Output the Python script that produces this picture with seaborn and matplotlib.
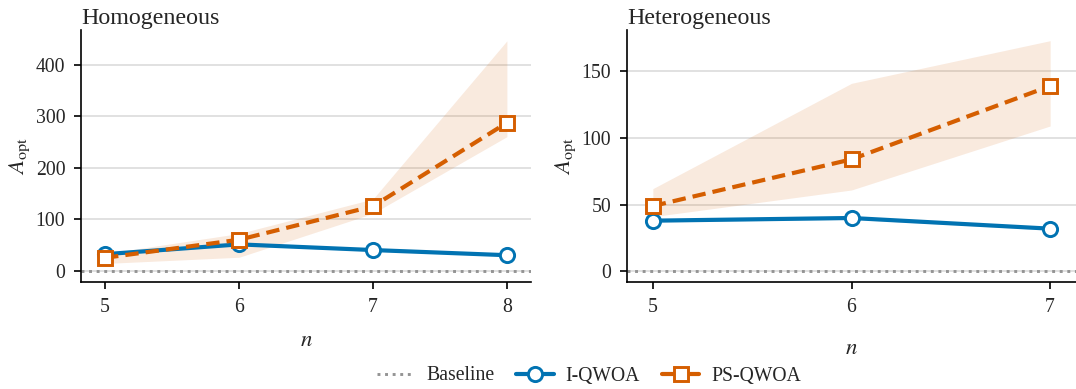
import numpy as np
import pandas as pd
import seaborn as sns
import matplotlib
matplotlib.use("Agg")
import matplotlib.pyplot as plt
from matplotlib.lines import Line2D

# ---- data ----
n_homo = [5, 6, 7, 8]
iqwoa_homo = [32, 51, 40, 30]
iqwoa_homo_lo = [30, 49, 38, 28]
iqwoa_homo_hi = [34, 53, 42, 32]
psqwoa_homo = [25, 60, 125, 287]
psqwoa_homo_lo = [14, 26, 111, 260]
psqwoa_homo_hi = [33, 72, 139, 446]

n_hetero = [5, 6, 7]
iqwoa_hetero = [38, 40, 32]
iqwoa_hetero_lo = [37, 39, 31]
iqwoa_hetero_hi = [39, 41, 33]
psqwoa_hetero = [49, 84, 139]
psqwoa_hetero_lo = [41, 61, 109]
psqwoa_hetero_hi = [62, 141, 173]

baseline = 0
titles = ["Homogeneous", "Heterogeneous"]
series_names = ["Baseline", "I-QWOA", "PS-QWOA"]

sns.set_theme(style="ticks")
plt.rcParams["font.family"] = ["Liberation Serif", "DejaVu Serif"]
plt.rcParams["mathtext.fontset"] = "stix"

BLUE = "#0173b2"
ORANGE = "#d55e00"
GRAY = "#949494"

dpi = 150
fig = plt.figure(figsize=(1076 / dpi, 389 / dpi), dpi=dpi)
W, H = 1076, 389
def pos(x0, x1, ytop, ybot):
    return [x0 / W, 1 - ybot / H, (x1 - x0) / W, (ybot - ytop) / H]

ax1 = fig.add_axes(pos(81, 531, 30, 282))
ax2 = fig.add_axes(pos(627, 1076, 30, 282))

LW = 2.0
MS = 6.8
panels = [
    (ax1, n_homo, iqwoa_homo, iqwoa_homo_lo, iqwoa_homo_hi,
     psqwoa_homo, psqwoa_homo_lo, psqwoa_homo_hi, (-22, 467), [0, 100, 200, 300, 400], 6.5),
    (ax2, n_hetero, iqwoa_hetero, iqwoa_hetero_lo, iqwoa_hetero_hi,
     psqwoa_hetero, psqwoa_hetero_lo, psqwoa_hetero_hi, (-8, 181), [0, 50, 100, 150], 10.5),
]

for i, (ax, n, iq, iql, iqh, ps, psl, psh, ylim, yt, lp) in enumerate(panels):
    ax.grid(axis="y", color="#dcdcdc", linewidth=0.8, zorder=0)
    ax.axhline(baseline, color=GRAY, linestyle=(0, (1, 1.6)), linewidth=1.4, zorder=1)
    ax.fill_between(n, iql, iqh, color=BLUE, alpha=0.15, linewidth=0, zorder=2)
    ax.fill_between(n, psl, psh, color=ORANGE, alpha=0.13, linewidth=0, zorder=2)
    df_i = pd.DataFrame({"n": n, "A": iq})
    df_p = pd.DataFrame({"n": n, "A": ps})
    sns.lineplot(data=df_i, x="n", y="A", ax=ax, color=BLUE, linewidth=LW,
                 marker="o", markersize=MS, markerfacecolor="white",
                 markeredgecolor=BLUE, markeredgewidth=1.4, zorder=3)
    sns.lineplot(data=df_p, x="n", y="A", ax=ax, color=ORANGE, linewidth=LW,
                 linestyle=(0, (3.2, 1.7)), marker="s", markersize=MS,
                 markerfacecolor="white", markeredgecolor=ORANGE,
                 markeredgewidth=1.4, zorder=4)
    ax.set_ylim(*ylim)
    ax.set_yticks(yt)
    ax.set_xticks(n)
    ax.set_xlim(n[0] - 0.05 * (n[-1] - n[0]) - 0.03, n[-1] + 0.05 * (n[-1] - n[0]) + 0.03)
    ax.set_xlabel(r"$n$", fontsize=11, labelpad=lp)
    ax.set_ylabel(r"$A_{\mathrm{opt}}$", fontsize=11, labelpad=2)
    ax.set_title(titles[i], loc="left", fontsize=11.5, pad=3)
    ax.tick_params(axis="both", labelsize=9.5, length=3.5, width=0.8, color="black", pad=4)
    for s in ["top", "right"]:
        ax.spines[s].set_visible(False)
    for s in ["left", "bottom"]:
        ax.spines[s].set_color("black")
        ax.spines[s].set_linewidth(0.8)

handles = [
    Line2D([], [], color=GRAY, linestyle=(0, (1, 1.6)), linewidth=1.4),
    Line2D([], [], color=BLUE, linewidth=LW, marker="o", markersize=MS,
           markerfacecolor="white", markeredgecolor=BLUE, markeredgewidth=1.4),
    Line2D([], [], color=ORANGE, linewidth=LW, marker="s", markersize=MS,
           markerfacecolor="white", markeredgecolor=ORANGE, markeredgewidth=1.4),
]
fig.legend(handles, series_names, loc="center", bbox_to_anchor=(589 / W, 1 - 376 / H),
           ncol=3, frameon=False, fontsize=9.5, handlelength=1.9, columnspacing=1.1,
           handletextpad=0.6)

fig.savefig("out.png", dpi=dpi)
